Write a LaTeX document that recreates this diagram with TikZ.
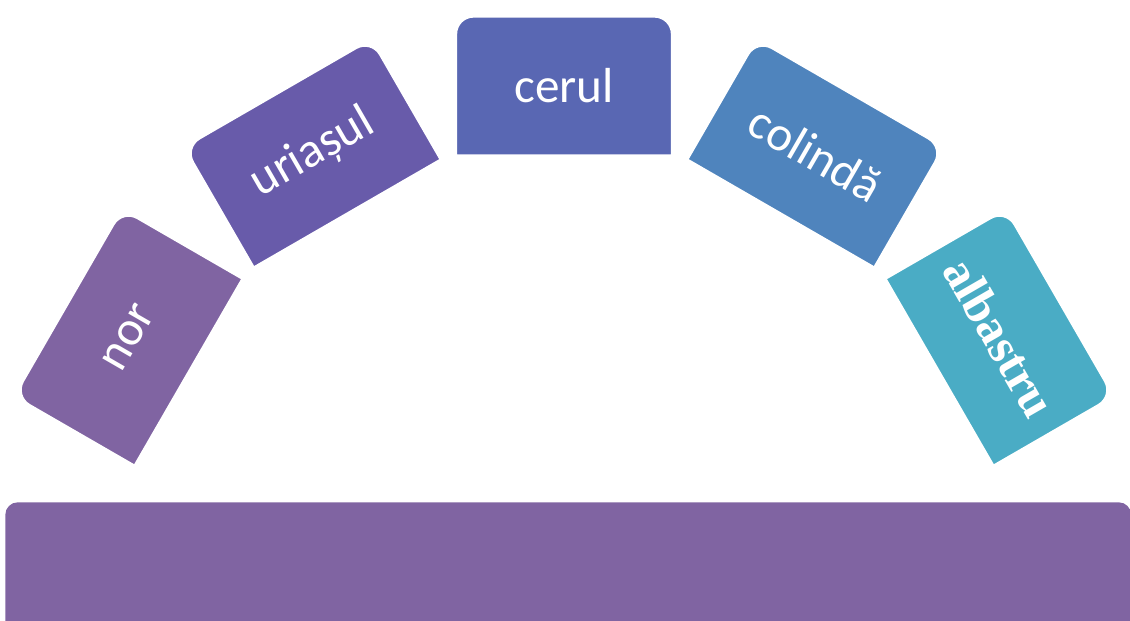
\documentclass[tikz,border=0pt]{standalone}
\usepackage{fontspec}
\setmainfont{Carlito}
\newfontfamily\serifword{Liberation Serif}
\usetikzlibrary{calc,backgrounds,shadows}
\definecolor{cNor}{RGB}{128,100,162}
\definecolor{cUri}{RGB}{104,91,170}
\definecolor{cCer}{RGB}{89,103,179}
\definecolor{cCol}{RGB}{79,132,189}
\definecolor{cAlb}{RGB}{74,172,197}
\tikzset{
  cardtext/.style={inner sep=0pt,minimum width=4.38cm,minimum height=2.84cm,
    text=white,font=\fontsize{28}{30}\selectfont},
  cardedge/.style={draw=white,line width=3.4pt,line join=round,
    drop shadow={opacity=0.15,shadow xshift=0.8pt,shadow yshift=-1pt}},
  basebar/.style={fill=cNor,rounded corners=7pt,inner sep=0pt,
    minimum width=22.52cm,minimum height=3cm,anchor=north west}
}

\begin{document}
\begin{tikzpicture}[x=0.02cm,y=0.02cm]
  \useasboundingbox (0,0) rectangle (1130,620);
  \clip (0,0) rectangle (1130,620);
  \node[basebar] (base) at (5,118) {};
  \coordinate (hub) at (564,31);
  \foreach \a/\n/\col/\t in {150/nor/cNor/nor,120/uri/cUri/uriașul,90/cer/cCer/cerul,
      60/col/cCol/colindă,30/alb/cAlb/{\serifword\bfseries albastru}}{
    \node[cardtext,rotate=\a-90] (\n) at ($(hub)+(\a:503)$) {\t};
    \begin{scope}[on background layer]
      \path[cardedge,fill=\col] (\n.south east) -- (\n.south west)
        [rounded corners=11pt] -- (\n.north west) -- (\n.north east)
        [sharp corners] -- cycle;
    \end{scope}
  }
\end{tikzpicture}
\end{document}
